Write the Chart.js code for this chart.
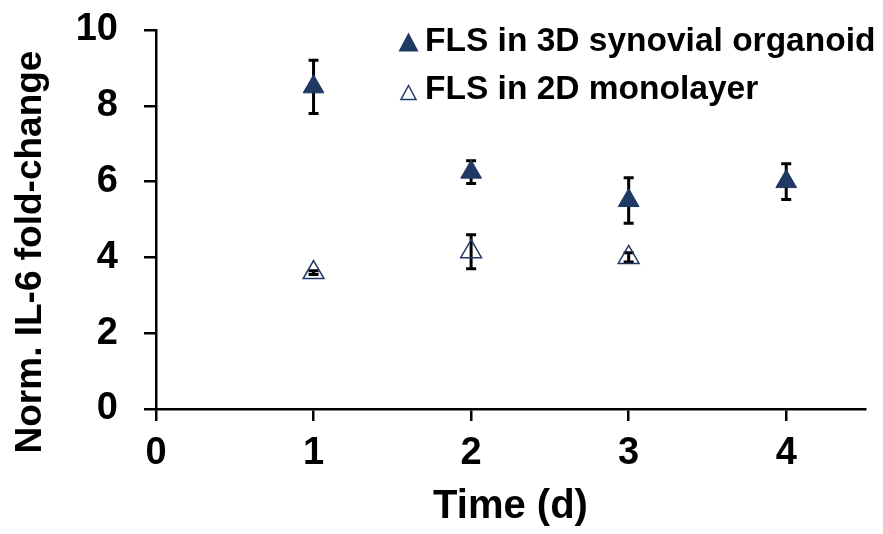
<!DOCTYPE html>
<html>
<head>
<meta charset="utf-8">
<script src="https://cdn.jsdelivr.net/npm/chart.js@4/dist/chart.umd.min.js"></script>
<style>
  html, body { margin: 0; padding: 0; background: #fff; }
  #wrap { width: 883px; height: 534px; }
</style>
</head>
<body>
<div id="wrap"><canvas id="il6Chart" width="883" height="534"></canvas></div>
<script>
// IL-6 fold-change over time, 3D organoid vs 2D monolayer
const days = [1, 2, 3, 4];
const organoidMean = [8.5, 6.25, 5.5, 6.0];
const organoidErr = [0.7, 0.3, 0.6, 0.47];
const monolayerMean = [3.6, 4.15, 4.0];
const monolayerErr = [0.05, 0.45, 0.12];
const seriesLabels = ['FLS in 3D synovial organoid', 'FLS in 2D monolayer'];
const xTicks = [0, 1, 2, 3, 4];

const navy = '#1f3864';
const fontFamily = '"Liberation Sans", Arial, sans-serif';

function toPoints(xs, ys) {
    return ys.map((y, i) => ({ x: xs[i], y: y }));
}

// error bars, drawn under the markers
const errorBars = {
    id: 'errorBars',
    beforeDatasetsDraw(chart) {
        const ctx = chart.ctx;
        const xs = chart.scales.x, ys = chart.scales.y;
        const sets = [[organoidMean, organoidErr], [monolayerMean, monolayerErr]];
        ctx.save();
        ctx.strokeStyle = '#000';
        ctx.lineWidth = 3;
        sets.forEach(([means, errs]) => {
            means.forEach((m, i) => {
                const px = xs.getPixelForValue(days[i]);
                const top = ys.getPixelForValue(m + errs[i]);
                const bot = ys.getPixelForValue(m - errs[i]);
                ctx.beginPath();
                ctx.moveTo(px, top); ctx.lineTo(px, bot);
                ctx.moveTo(px - 5, top); ctx.lineTo(px + 5, top);
                ctx.moveTo(px - 5, bot); ctx.lineTo(px + 5, bot);
                ctx.stroke();
            });
        });
        ctx.restore();
    }
};

// legend in the top right plus the rotated y title
const extras = {
    id: 'extras',
    afterDraw(chart) {
        const ctx = chart.ctx;
        ctx.save();
        // legend markers
        const tri = (cx, cy, w, h, filled) => {
            ctx.beginPath();
            ctx.moveTo(cx, cy - h / 2);
            ctx.lineTo(cx + w / 2, cy + h / 2);
            ctx.lineTo(cx - w / 2, cy + h / 2);
            ctx.closePath();
            if (filled) { ctx.fillStyle = navy; ctx.fill(); }
            else { ctx.strokeStyle = navy; ctx.lineWidth = 1.5; ctx.stroke(); }
        };
        tri(408.5, 42, 20, 19, true);
        tri(408.5, 92.5, 15, 14, false);
        ctx.fillStyle = '#000';
        ctx.font = 'bold 33.5px ' + fontFamily;
        ctx.textBaseline = 'middle';
        ctx.textAlign = 'left';
        ctx.fillText(seriesLabels[0], 425, 42);
        ctx.fillText(seriesLabels[1], 425, 90);

        // y axis title
        ctx.translate(31, 252);
        ctx.rotate(-Math.PI / 2);
        ctx.textAlign = 'center';
        ctx.font = 'bold 37px ' + fontFamily;
        ctx.fillText('Norm. IL-6 fold-change', 0, 0);
        ctx.restore();
    }
};

new Chart(document.getElementById('il6Chart'), {
    type: 'scatter',
    data: {
        datasets: [
            {
                label: seriesLabels[0],
                data: toPoints(days, organoidMean),
                pointStyle: 'triangle',
                pointRadius: 12,
                backgroundColor: navy,
                borderColor: navy,
                borderWidth: 1
            },
            {
                label: seriesLabels[1],
                data: toPoints(days, monolayerMean),
                pointStyle: 'triangle',
                pointRadius: 12,
                backgroundColor: 'rgba(0,0,0,0)',
                borderColor: navy,
                borderWidth: 1.5
            }
        ]
    },
    options: {
        responsive: false,
        animation: false,
        layout: { padding: { top: 30, right: 18, left: 0, bottom: 0 } },
        plugins: {
            legend: { display: false },
            tooltip: { enabled: false }
        },
        scales: {
            x: {
                type: 'linear',
                min: 0,
                max: 4.5,
                afterBuildTicks: (scale) => { scale.ticks = xTicks.map(v => ({ value: v })); },
                afterFit: (scale) => {
                    scale.height = 125;
                    scale.paddingLeft = 0;
                    scale.paddingRight = 0;
                },
                border: { color: '#000', width: 2.5 },
                grid: { drawOnChartArea: false, drawTicks: true, tickLength: 12, color: '#000', lineWidth: 2.5 },
                ticks: { color: '#000', font: { family: fontFamily, size: 38, weight: 'bold' }, padding: 10 },
                title: {
                    display: true,
                    text: 'Time (d)',
                    color: '#000',
                    font: { family: fontFamily, size: 40, weight: 'bold' },
                    padding: { top: 0, bottom: 3 }
                }
            },
            y: {
                min: 0,
                max: 10,
                afterFit: (scale) => {
                    scale.width = 156;
                    scale.paddingTop = 0;
                    scale.paddingBottom = 0;
                },
                border: { color: '#000', width: 2.5 },
                grid: { drawOnChartArea: false, drawTicks: true, tickLength: 12, color: '#000', lineWidth: 2.5 },
                ticks: { stepSize: 2, color: '#000', font: { family: fontFamily, size: 38, weight: 'bold' }, padding: 26 }
            }
        }
    },
    plugins: [errorBars, extras]
});
</script>
</body>
</html>
